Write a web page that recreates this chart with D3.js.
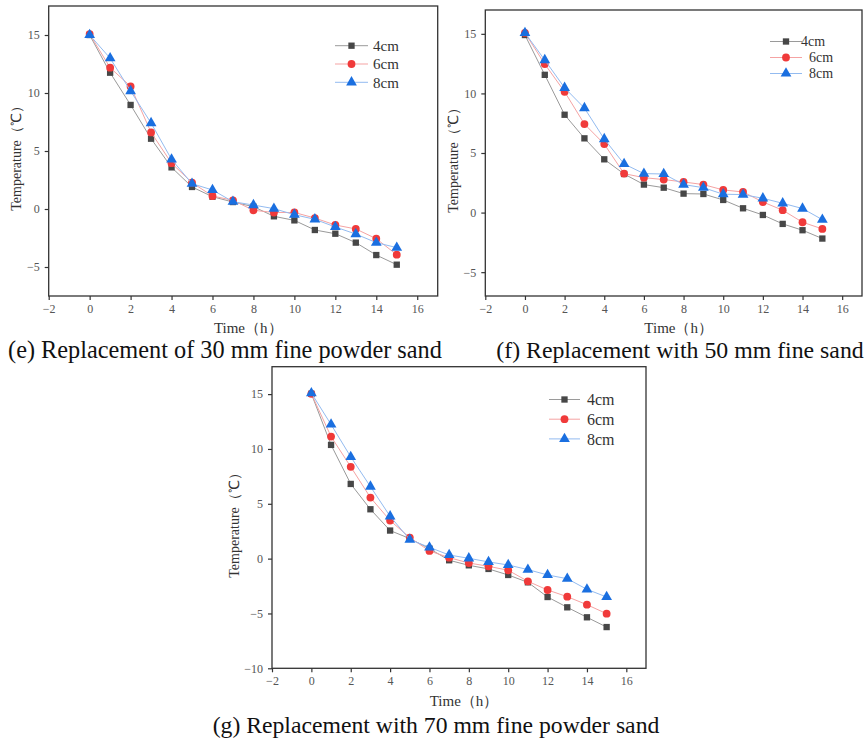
<!DOCTYPE html>
<html>
<head>
<meta charset="utf-8">
<script src="https://cdn.jsdelivr.net/npm/d3@7"></script>
<style>
  body { margin: 0; background: #fff; }
  svg { display: block; }
  .tick text { font-family: "Liberation Serif", "DejaVu Serif", serif; }
</style>
</head>
<body>
<svg id="chart" width="866" height="740"></svg>
<script>
// time axis (hours)
var hours = [0, 1, 2, 3, 4, 5, 6, 7, 8, 9, 10, 11, 12, 13, 14, 15];
var seriesNames = ['4cm', '6cm', '8cm'];
var xTicks = [-2, 0, 2, 4, 6, 8, 10, 12, 14, 16];

// (e) 30 mm fine powder sand
var e4 = [15.0, 11.75, 8.97, 6.06, 3.59, 1.9, 1.06, 0.6, 0.2, -0.63, -0.98, -1.81, -2.13, -2.9, -3.97, -4.8];
var e6 = [15.08, 12.18, 10.57, 6.6, 3.95, 2.27, 1.12, 0.75, -0.11, -0.3, -0.3, -0.78, -1.38, -1.72, -2.56, -3.94];
var e8 = [15.0, 13.0, 10.17, 7.41, 4.28, 2.18, 1.64, 0.63, 0.34, 0.03, -0.49, -0.89, -1.55, -2.16, -2.9, -3.33];

// (f) 50 mm fine sand
var f4 = [14.9, 11.56, 8.21, 6.23, 4.47, 3.24, 2.35, 2.09, 1.59, 1.56, 1.06, 0.36, -0.2, -0.95, -1.48, -2.18];
var f6 = [15.08, 12.46, 10.14, 7.43, 5.75, 3.27, 2.93, 2.77, 2.57, 2.35, 1.9, 1.73, 0.89, 0.2, -0.81, -1.37];
var f8 = [15.08, 12.8, 10.47, 8.77, 6.17, 4.08, 3.27, 3.24, 2.35, 2.09, 1.54, 1.51, 1.2, 0.78, 0.34, -0.59];

// (g) 70 mm fine powder sand
var g4 = [15.03, 10.37, 6.81, 4.5, 2.56, 1.83, 0.91, -0.15, -0.61, -0.94, -1.49, -2.16, -3.5, -4.44, -5.35, -6.24];
var g6 = [15.03, 11.13, 8.37, 5.57, 3.47, 1.92, 0.7, 0.09, -0.4, -0.7, -1.06, -2.07, -2.86, -3.47, -4.2, -5.02];
var g8 = [15.09, 12.23, 9.28, 6.57, 3.86, 1.73, 1.03, 0.33, 0.03, -0.3, -0.58, -1.0, -1.49, -1.83, -2.8, -3.5];

var serif = '"Liberation Serif", "Times New Roman", serif';
var markerColors = ['#474747', '#f03a3a', '#1a6fe0'];
var lineColors = ['#9a9a9a', '#f5a3a3', '#93bbf0'];
var symbols = [d3.symbolSquare, d3.symbolCircle, d3.symbolTriangle];
var symbolSizes = [40, 48, 50];

var svg = d3.select('#chart');

function drawPanel(cfg) {
  var x = d3.scaleLinear().domain([-2, 17]).range([cfg.left, cfg.right]);
  var y = d3.scaleLinear().domain(cfg.yDomain).range([cfg.bottom, cfg.top]);

  var g = svg.append('g');

  // axes (outward ticks)
  var xAxis = g.append('g')
    .attr('transform', 'translate(0,' + cfg.bottom + ')')
    .call(d3.axisBottom(x).tickValues(xTicks).tickSize(4).tickPadding(4));
  var yAxis = g.append('g')
    .attr('transform', 'translate(' + cfg.left + ',0)')
    .call(d3.axisLeft(y).tickValues(cfg.yTicks).tickSize(4).tickPadding(5));

  [xAxis, yAxis].forEach(function (a) {
    a.select('.domain').remove();
    a.selectAll('.tick line').attr('stroke', '#333').attr('stroke-width', 1.2);
    a.selectAll('.tick text').attr('fill', '#555').style('font-size', '12px');
  });

  // frame
  g.append('rect')
    .attr('x', cfg.left).attr('y', cfg.top)
    .attr('width', cfg.right - cfg.left).attr('height', cfg.bottom - cfg.top)
    .attr('fill', 'none').attr('stroke', '#333').attr('stroke-width', 1.3);

  // series
  var line = d3.line()
    .x(function (d, i) { return x(hours[i]); })
    .y(function (d) { return y(d); });

  cfg.series.forEach(function (vals, s) {
    g.append('path')
      .datum(vals)
      .attr('d', line)
      .attr('fill', 'none')
      .attr('stroke', lineColors[s])
      .attr('stroke-width', 1);
    g.selectAll('.m' + s)
      .data(vals)
      .enter().append('path')
      .attr('class', 'm' + s)
      .attr('transform', function (d, i) { return 'translate(' + x(hours[i]) + ',' + y(d) + ')'; })
      .attr('d', d3.symbol().type(symbols[s]).size(symbolSizes[s]))
      .attr('fill', markerColors[s]);
  });

  // axis titles
  g.append('text')
    .attr('x', (cfg.left + cfg.right) / 2 + 5)
    .attr('y', cfg.xTitleY)
    .attr('text-anchor', 'middle')
    .attr('fill', '#333')
    .style('font-family', serif)
    .style('font-size', '15px')
    .text('Time（h）');

  g.append('text')
    .attr('transform', 'translate(' + cfg.yTitleX + ',' + cfg.yTitleY + ') rotate(-90)')
    .attr('text-anchor', 'middle')
    .attr('fill', '#333')
    .style('font-family', serif)
    .style('font-size', '14px')
    .text('Temperature（℃）');

  // legend
  var lg = cfg.legend;
  seriesNames.forEach(function (name, s) {
    var ly = lg.y + s * lg.step;
    g.append('line')
      .attr('x1', lg.x).attr('x2', lg.x + lg.len)
      .attr('y1', ly).attr('y2', ly)
      .attr('stroke', lineColors[s]).attr('stroke-width', 1);
    g.append('path')
      .attr('transform', 'translate(' + (lg.x + lg.len / 2) + ',' + ly + ')')
      .attr('d', d3.symbol().type(symbols[s]).size(symbolSizes[s]))
      .attr('fill', markerColors[s]);
    g.append('text')
      .attr('x', lg.x + lg.len + lg.textGap[s])
      .attr('y', ly + lg.fontSize * 0.35)
      .attr('fill', '#333')
      .style('font-family', serif)
      .style('font-size', lg.fontSize + 'px')
      .text(name);
  });

  // caption
  svg.append('text')
    .attr('x', cfg.capX)
    .attr('y', cfg.capY)
    .attr('text-anchor', 'middle')
    .attr('fill', '#111')
    .style('font-family', serif)
    .style('font-size', cfg.capSize + 'px')
    .text(cfg.caption);
}

drawPanel({
  left: 48.7, right: 437.7, top: 6, bottom: 296,
  yDomain: [-7.5, 17.5], yTicks: [-5, 0, 5, 10, 15],
  series: [e4, e6, e8],
  xTitleY: 333, yTitleX: 21, yTitleY: 155,
  legend: { x: 335, y: 45.7, step: 18.3, len: 33, textGap: [5, 5, 5], fontSize: 15 },
  caption: '(e) Replacement of 30 mm fine powder sand', capX: 225, capY: 358, capSize: 24.3
});

drawPanel({
  left: 485.3, right: 862, top: 10, bottom: 296,
  yDomain: [-7, 17], yTicks: [-5, 0, 5, 10, 15],
  series: [f4, f6, f8],
  xTitleY: 333, yTitleX: 458, yTitleY: 157,
  legend: { x: 770, y: 41.5, step: 16, len: 32, textGap: [-1, 7, 7], fontSize: 14 },
  caption: '(f) Replacement with 50 mm fine sand', capX: 680, capY: 358, capSize: 23.8
});

drawPanel({
  left: 272, right: 646, top: 366.7, bottom: 668.3,
  yDomain: [-10, 17.5], yTicks: [-10, -5, 0, 5, 10, 15],
  series: [g4, g6, g8],
  xTitleY: 706, yTitleX: 239, yTitleY: 522,
  legend: { x: 549, y: 399.5, step: 19.7, len: 31, textGap: [7, 7, 7], fontSize: 16 },
  caption: '(g) Replacement with 70 mm fine powder sand', capX: 436, capY: 733, capSize: 23.7
});
</script>
</body>
</html>
